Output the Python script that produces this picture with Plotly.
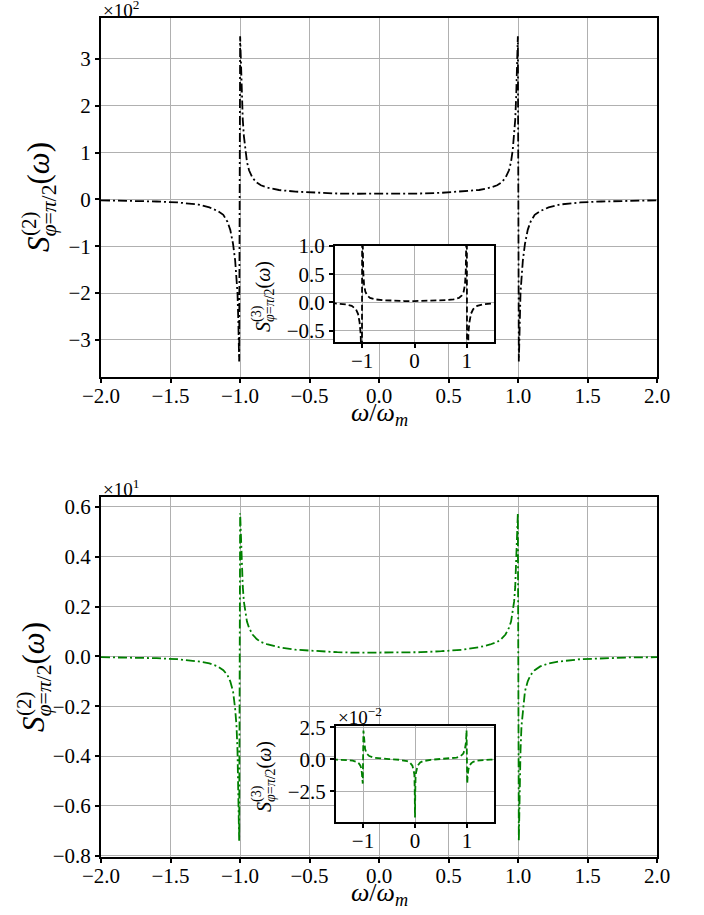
import plotly.graph_objects as go

W, H = 704, 915

# ---------------- data ----------------
# top main panel, values in units of 1e2
x_main = [-2.0, -1.8, -1.6, -1.45, -1.3, -1.22, -1.16, -1.12, -1.09, -1.07, -1.05, -1.035,
          -1.025, -1.018, -1.012, -1.006,
          -0.999, -0.993, -0.987, -0.98, -0.972, -0.962, -0.95, -0.935, -0.91, -0.88, -0.85,
          -0.8, -0.72, -0.6, -0.45, -0.3, -0.15,
          0.0,
          0.15, 0.3, 0.45, 0.6, 0.72, 0.8, 0.85, 0.88, 0.91, 0.935, 0.95, 0.962, 0.972, 0.98,
          0.987, 0.993, 0.999,
          1.006, 1.012, 1.018, 1.025, 1.035, 1.05, 1.07, 1.09, 1.12, 1.16, 1.22, 1.3, 1.45,
          1.6, 1.8, 2.0]
y_top_main = [-0.02, -0.03, -0.045, -0.065, -0.11, -0.17, -0.25, -0.33, -0.48, -0.65, -0.95, -1.3,
              -1.7, -2.0, -2.6, -3.46,
              3.48, 2.9, 2.2, 1.7, 1.35, 1.05, 0.8, 0.62, 0.46, 0.36, 0.3,
              0.25, 0.2, 0.165, 0.14, 0.125, 0.12,
              0.12,
              0.12, 0.125, 0.14, 0.165, 0.2, 0.25, 0.3, 0.36, 0.46, 0.62, 0.8, 1.05, 1.35, 1.7,
              2.2, 2.9, 3.48,
              -3.46, -2.6, -2.0, -1.7, -1.3, -0.95, -0.65, -0.48, -0.33, -0.25, -0.17, -0.11, -0.065,
              -0.045, -0.03, -0.02]
# bottom main panel, values in units of 1e1
y_bot_main = [-0.003, -0.004, -0.007, -0.011, -0.02, -0.028, -0.04, -0.055, -0.075, -0.1, -0.14, -0.21,
              -0.28, -0.38, -0.52, -0.74,
              0.575, 0.47, 0.37, 0.28, 0.22, 0.175, 0.14, 0.115, 0.088, 0.07, 0.058,
              0.048, 0.037, 0.027, 0.021, 0.017, 0.015,
              0.015,
              0.015, 0.017, 0.021, 0.027, 0.037, 0.048, 0.058, 0.07, 0.088, 0.115, 0.14, 0.175, 0.22, 0.28,
              0.37, 0.47, 0.575,
              -0.74, -0.52, -0.38, -0.28, -0.21, -0.14, -0.1, -0.075, -0.055, -0.04, -0.028, -0.02, -0.011,
              -0.007, -0.004, -0.003]

# top inset
x_ins_top = [-1.6, -1.5, -1.4, -1.3, -1.2, -1.12, -1.08, -1.05, -1.03, -1.018, -1.008,
             -0.998, -0.99, -0.98, -0.965, -0.94, -0.9, -0.85, -0.75, -0.6, -0.4, -0.2,
             0.0,
             0.2, 0.4, 0.6, 0.75, 0.85, 0.9, 0.94, 0.965, 0.98, 0.99, 0.998,
             1.008, 1.018, 1.03, 1.05, 1.08, 1.12, 1.2, 1.3, 1.4, 1.5, 1.6]
y_ins_top = [-0.01, -0.015, -0.02, -0.035, -0.06, -0.12, -0.2, -0.35, -0.55, -0.9, -3.0,
             3.0, 1.1, 0.55, 0.32, 0.19, 0.12, 0.08, 0.055, 0.04, 0.03, 0.026,
             0.025,
             0.026, 0.03, 0.04, 0.055, 0.08, 0.12, 0.19, 0.32, 0.55, 1.1, 3.0,
             -3.0, -0.9, -0.55, -0.35, -0.2, -0.12, -0.06, -0.035, -0.02, -0.015, -0.01]

# bottom inset, values in units of 1e-2
x_ins_bot = [-1.6, -1.45, -1.3, -1.2, -1.12, -1.08, -1.05, -1.03, -1.015, -1.005,
             -0.992, -0.98, -0.96, -0.93, -0.88, -0.8, -0.7, -0.5, -0.3, -0.15, -0.1, -0.05,
             -0.025, -0.012, -0.005,
             0.0,
             0.005, 0.012, 0.025, 0.05, 0.1, 0.15, 0.3, 0.5, 0.7, 0.8, 0.88, 0.93, 0.96, 0.98, 0.992,
             1.005, 1.015, 1.03, 1.05, 1.08, 1.12, 1.2, 1.3, 1.45, 1.6]
y_ins_bot = [-0.02, -0.03, -0.06, -0.11, -0.2, -0.32, -0.5, -0.75, -1.2, -1.9,
             2.25, 1.3, 0.8, 0.45, 0.25, 0.13, 0.07, 0.01, -0.04, -0.15, -0.25, -0.5,
             -0.9, -1.2, -2.5,
             -4.55,
             -2.5, -1.2, -0.9, -0.5, -0.25, -0.15, -0.04, 0.01, 0.07, 0.13, 0.25, 0.45, 0.8, 1.3, 2.25,
             -1.9, -1.2, -0.75, -0.5, -0.32, -0.2, -0.11, -0.06, -0.03, -0.02]

x_ticks = [-2.0, -1.5, -1.0, -0.5, 0.0, 0.5, 1.0, 1.5, 2.0]
y_ticks_top = [-3, -2, -1, 0, 1, 2, 3]
y_ticks_bot = [-0.8, -0.6, -0.4, -0.2, 0.0, 0.2, 0.4, 0.6]
x_ticks_ins = [-1, 0, 1]
y_ticks_ins_top = [-0.5, 0.0, 0.5, 1.0]
y_ticks_ins_bot = [-2.5, 0.0, 2.5]

BLACK = "#000000"
GREEN = "#008000"
FONT = "Liberation Serif"
GRID = "#b0b0b0"
TICK = 21

def px(x):
    return x / W

def py(y):
    return 1 - y / H

fig = go.Figure()
fig.add_trace(go.Scatter(x=x_main, y=y_top_main, mode="lines", xaxis="x", yaxis="y",
                         line=dict(color=BLACK, width=1.8, dash="9px,3px,2px,3px")))
fig.add_trace(go.Scatter(x=x_main, y=y_bot_main, mode="lines", xaxis="x2", yaxis="y2",
                         line=dict(color=GREEN, width=1.8, dash="9px,3px,2px,3px")))
fig.add_trace(go.Scatter(x=x_ins_top, y=y_ins_top, mode="lines", xaxis="x3", yaxis="y3",
                         line=dict(color=BLACK, width=1.8, dash="6px,3px")))
fig.add_trace(go.Scatter(x=x_ins_bot, y=y_ins_bot, mode="lines", xaxis="x4", yaxis="y4",
                         line=dict(color=GREEN, width=1.8, dash="6px,3px")))

def ax(domain, rng, tickvals, fmt, anchor, standoff):
    return dict(domain=domain, range=rng, tickvals=tickvals, tickformat=fmt, anchor=anchor,
                automargin=False, ticklabelstandoff=standoff,
                showgrid=True, gridcolor=GRID, gridwidth=1, zeroline=False,
                showline=True, linecolor=BLACK, linewidth=2, mirror=True,
                ticks="outside", ticklen=4, tickwidth=1.5, tickcolor=BLACK,
                tickfont=dict(family=FONT, size=TICK, color=BLACK))

xdom = [px(101), px(657)]
fig.update_layout(
    width=W, height=H, autosize=False,
    margin=dict(l=0, r=0, t=0, b=0),
    paper_bgcolor="white", plot_bgcolor="white",
    showlegend=False,
    xaxis=ax(xdom, [-2, 2], x_ticks, ".1f", "y", -5),
    yaxis=ax([py(377), py(18)], [-3.79, 3.87], y_ticks_top, "d", "x", 0),
    xaxis2=ax(xdom, [-2, 2], x_ticks, ".1f", "y2", -5),
    yaxis2=ax([py(857), py(497)], [-0.805, 0.64], y_ticks_bot, ".1f", "x2", 0),
    xaxis3=ax([px(335), px(494)], [-1.52, 1.52], x_ticks_ins, "d", "y3", -5),
    yaxis3=ax([py(342), py(246)], [-0.7, 1.0], y_ticks_ins_top, ".1f", "x3", 0),
    xaxis4=ax([px(336), px(494)], [-1.52, 1.52], x_ticks_ins, "d", "y4", -5),
    yaxis4=ax([py(822), py(726)], [-4.9, 2.6], y_ticks_ins_bot, ".1f", "x4", 0),
)

ann = []
def text(x, y, t, size, angle=0, xa="center", ya="middle"):
    ann.append(dict(x=px(x), y=py(y), xref="paper", yref="paper", text=t, showarrow=False,
                    textangle=angle, xanchor=xa, yanchor=ya,
                    font=dict(family=FONT, size=size, color=BLACK)))

# multipliers
text(101, 23, "×10<sup>2</sup>", 19, xa="left", ya="bottom")
text(101, 502, "×10<sup>1</sup>", 19, xa="left", ya="bottom")
text(336, 730, "×10<sup>−2</sup>", 19, xa="left", ya="bottom")

# x axis titles
text(379, 414, "<i>ω</i>/<i>ω</i><sub><i>m</i></sub>", 26)
text(379, 894, "<i>ω</i>/<i>ω</i><sub><i>m</i></sub>", 26)

# rotated y labels: S_{phi=pi/2}(omega) with a stacked superscript
LBL = "<i>S</i><sub><i>φ</i>=<i>π</i>/2</sub>(<i>ω</i>)"
text(41, 197, LBL, 31, angle=-90)
text(29, 224, "(2)", 21, angle=-90)
text(36, 677, LBL, 31, angle=-90)
text(24, 704, "(2)", 21, angle=-90)
text(265, 297, LBL, 20, angle=-90)
text(257, 314, "(3)", 14, angle=-90)
text(265, 777, LBL, 20, angle=-90)
text(257, 794, "(3)", 14, angle=-90)

fig.update_layout(annotations=ann)
fig.write_html("out.html")
